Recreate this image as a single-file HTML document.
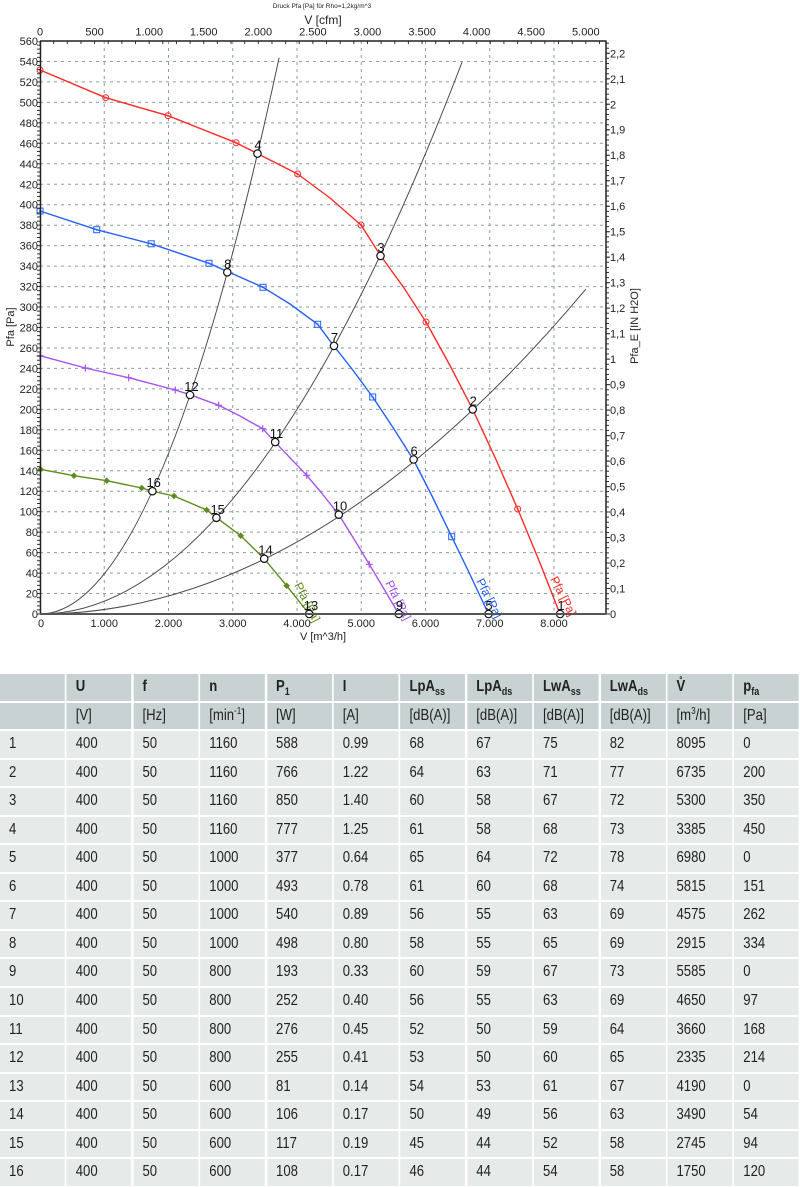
<!DOCTYPE html>
<html><head><meta charset="utf-8">
<style>
html,body{margin:0;padding:0;background:#fff;}
body{width:800px;height:1187px;position:relative;overflow:hidden;font-family:"Liberation Sans",Arial,sans-serif;}
svg{position:absolute;left:0;top:0;}
.t{position:absolute;left:0;top:674px;width:974.4px;display:grid;grid-template-columns:repeat(12,1fr);grid-auto-rows:26.55px;column-gap:2.44px;row-gap:2px;transform:scaleX(.82);transform-origin:0 0;}
.t>div{background:#e6ebea;color:#222;font-size:16px;line-height:26.55px;padding-left:11px;white-space:nowrap;overflow:hidden;}
.t>div:nth-child(-n+24){background:#c8d2d2;}
.t>div:nth-child(-n+12){font-weight:bold;}
.t sub{font-size:11px;vertical-align:-4px;line-height:0;}
.t sup{font-size:10px;vertical-align:6px;line-height:0;}
</style></head><body>
<svg width="800" height="660" viewBox="0 0 800 660" font-family="Liberation Sans, Arial, sans-serif">
<!-- grid -->
<g stroke="#8d9d9b" stroke-width="1" stroke-dasharray="3 4" fill="none">
<path d="M40 593.5H606M40 573.1H606M40 552.6H606M40 532.1H606M40 511.7H606M40 491.2H606M40 470.8H606M40 450.3H606M40 429.8H606M40 409.4H606M40 388.9H606M40 368.4H606M40 348H606M40 327.5H606M40 307H606M40 286.6H606M40 266.1H606M40 245.6H606M40 225.2H606M40 204.7H606M40 184.3H606M40 163.8H606M40 143.3H606M40 122.9H606M40 102.4H606M40 81.9H606M40 61.5H606"/>
<path d="M104.25 41V614M168.5 41V614M232.75 41V614M297 41V614M361.25 41V614M425.5 41V614M489.75 41V614M554 41V614"/>
</g>
<!-- system curves -->
<g stroke="#4a4a4a" stroke-width="1" fill="none">
<path d="M40 614Q159.6 614 279.1 57.7"/>
<path d="M40 614Q251.1 614 462.1 62"/>
<path d="M40 614Q312.8 614 585.7 289.3"/>
</g>
<!-- fan curves -->
<g fill="none" stroke-width="1.4" stroke-linejoin="round">
<polyline stroke="#ff2a2a" points="40,70 105.7,97.7 168,115.7 236,142.7 257.7,153.7 297.7,174 330,198 361,225 380.5,255.5 404,288 426,322 450,365.5 472.7,409.4 496,459.5 517.7,509 540,563 560,614"/>
<polyline stroke="#2460ff" points="40,211 96.7,229.7 151.2,243.8 209,263.3 227.5,271.5 263,287.3 290,304 317.7,324.3 333.8,345.9 352,369 372.7,397 393,427.5 413.6,460 432,496 451.7,536.7 470,574.5 488.5,614"/>
<polyline stroke="#a552f2" points="40,355.7 85.3,368 128.7,377.7 175.3,390 190,394.7 218.7,405.3 240,416 262.7,428.7 275.3,442.3 306.7,475.3 322,493.5 338.8,514.7 354,539 369.3,564.3 384,589 398.8,614"/>
<polyline stroke="#5f8c1e" points="40.5,469.3 74,475.7 106.7,480.7 141.7,488 152.4,491.2 174,496 206.7,510 216.4,517.6 240.7,535.7 264.3,558.8 286.7,585.8 309.2,614"/>
</g>
<!-- markers red -->
<g fill="none" stroke="#ff2a2a" stroke-width="1">
<circle cx="40" cy="70" r="3"/><circle cx="105.7" cy="97.7" r="3"/><circle cx="168" cy="115.7" r="3"/><circle cx="236" cy="142.7" r="3"/><circle cx="297.7" cy="174" r="3"/><circle cx="361" cy="225" r="3"/><circle cx="426" cy="322" r="3"/><circle cx="517.7" cy="509" r="3"/>
</g>
<g fill="#ff2a2a">
<circle cx="40" cy="70" r="1"/><circle cx="105.7" cy="97.7" r="1"/><circle cx="168" cy="115.7" r="1"/><circle cx="236" cy="142.7" r="1"/><circle cx="297.7" cy="174" r="1"/><circle cx="361" cy="225" r="1"/><circle cx="426" cy="322" r="1"/><circle cx="517.7" cy="509" r="1"/>
</g>
<!-- markers blue -->
<g fill="none" stroke="#2460ff" stroke-width="1">
<rect x="37" y="208" width="6" height="6"/><rect x="93.7" y="226.7" width="6" height="6"/><rect x="148.2" y="240.8" width="6" height="6"/><rect x="206" y="260.3" width="6" height="6"/><rect x="260" y="284.3" width="6" height="6"/><rect x="314.7" y="321.3" width="6" height="6"/><rect x="369.7" y="394" width="6" height="6"/><rect x="448.7" y="533.7" width="6" height="6"/>
</g>
<g fill="#2460ff">
<circle cx="40" cy="211" r="1"/><circle cx="96.7" cy="229.7" r="1"/><circle cx="151.2" cy="243.8" r="1"/><circle cx="209" cy="263.3" r="1"/><circle cx="263" cy="287.3" r="1"/><circle cx="317.7" cy="324.3" r="1"/><circle cx="372.7" cy="397" r="1"/><circle cx="451.7" cy="536.7" r="1"/>
</g>
<!-- markers purple -->
<path stroke="#a552f2" stroke-width="1.2" fill="none" d="M36.5 355.7h7M40 352.2v7M81.8 368h7M85.3 364.5v7M125.2 377.7h7M128.7 374.2v7M171.8 390h7M175.3 386.5v7M215.2 405.3h7M218.7 401.8v7M259.2 428.7h7M262.7 425.2v7M303.2 475.3h7M306.7 471.8v7M365.8 564.3h7M369.3 560.8v7"/>
<!-- markers green -->
<g fill="#5f8c1e">
<polygon points="40.5,466 43.8,469.3 40.5,472.6 37.2,469.3"/>
<polygon points="74,472.4 77.3,475.7 74,479 70.7,475.7"/>
<polygon points="106.7,477.4 110,480.7 106.7,484 103.4,480.7"/>
<polygon points="141.7,484.7 145,488 141.7,491.3 138.4,488"/>
<polygon points="174,492.7 177.3,496 174,499.3 170.7,496"/>
<polygon points="206.7,506.7 210,510 206.7,513.3 203.4,510"/>
<polygon points="240.7,532.4 244,535.7 240.7,539 237.4,535.7"/>
<polygon points="286.7,582.5 290,585.8 286.7,589.1 283.4,585.8"/>
</g>
<!-- curve labels -->
<g font-size="12">
<text transform="translate(550,579) rotate(63)" fill="#ff2a2a">Pfa [Pa]</text>
<text transform="translate(476,581) rotate(63)" fill="#2460ff">Pfa [Pa]</text>
<text transform="translate(385,583) rotate(63)" fill="#a552f2">Pfa [Pa]</text>
<text transform="translate(294,585) rotate(63)" fill="#5f8c1e">Pfa [Pa]</text>
</g>
<!-- operating points -->
<g fill="#fff" stroke="#111" stroke-width="1.2">
<circle cx="560.1" cy="614" r="3.7"/><circle cx="472.7" cy="409.4" r="3.7"/><circle cx="380.5" cy="255.9" r="3.7"/><circle cx="257.5" cy="153.6" r="3.7"/>
<circle cx="488.5" cy="614" r="3.7"/><circle cx="413.6" cy="459.5" r="3.7"/><circle cx="334" cy="345.9" r="3.7"/><circle cx="227.3" cy="272.3" r="3.7"/>
<circle cx="398.8" cy="614" r="3.7"/><circle cx="338.8" cy="514.7" r="3.7"/><circle cx="275.2" cy="442.1" r="3.7"/><circle cx="190" cy="395" r="3.7"/>
<circle cx="309.2" cy="614" r="3.7"/><circle cx="264.2" cy="558.7" r="3.7"/><circle cx="216.4" cy="517.8" r="3.7"/><circle cx="152.4" cy="491.2" r="3.7"/>
</g>
<g font-size="13" fill="#111" text-anchor="middle">
<text x="561" y="610">1</text><text x="473.2" y="405.4">2</text><text x="381" y="251.9">3</text><text x="258" y="149.6">4</text>
<text x="489" y="610">5</text><text x="414.1" y="455.5">6</text><text x="334.5" y="341.9">7</text><text x="227.8" y="268.3">8</text>
<text x="399.5" y="610">9</text><text x="340" y="510.7">10</text><text x="276.5" y="438.1">11</text><text x="191.5" y="391">12</text>
<text x="311" y="610">13</text><text x="265.5" y="554.7">14</text><text x="217.7" y="513.8">15</text><text x="153.7" y="487.2">16</text>
</g>
<!-- ticks -->
<line x1="38.5" y1="614.5" x2="38.5" y2="41" stroke="#333" stroke-width="3" stroke-dasharray="1 3.093"/>
<line x1="607.5" y1="614.5" x2="607.5" y2="41" stroke="#333" stroke-width="3" stroke-dasharray="1 4.097"/>
<line x1="608" y1="614.5" x2="608" y2="41" stroke="#333" stroke-width="4" stroke-dasharray="1 24.487"/>
<line x1="39.5" y1="42.5" x2="606" y2="42.5" stroke="#333" stroke-width="3" stroke-dasharray="1 12.645"/>
<!-- axes -->
<path d="M40.5 41V614M40 41H606.5M606 41V614" stroke="#222" stroke-width="1.5" fill="none"/>
<path d="M40 614H606" stroke="#555" stroke-width="2"/>
<!-- labels -->
<text x="322" y="8" font-size="6.5" text-anchor="middle" fill="#222">Druck Pfa [Pa] für Rho=1,2kg/m^3</text>
<text x="323" y="24" font-size="12" text-anchor="middle" fill="#222">V [cfm]</text>
<g font-size="11" text-anchor="middle" fill="#222">
<text x="40" y="35.5">0</text><text x="94.6" y="35.5">500</text><text x="149.2" y="35.5">1.000</text><text x="203.7" y="35.5">1.500</text><text x="258.3" y="35.5">2.000</text><text x="312.9" y="35.5">2.500</text><text x="367.5" y="35.5">3.000</text><text x="422.1" y="35.5">3.500</text><text x="476.6" y="35.5">4.000</text><text x="531.2" y="35.5">4.500</text><text x="585.8" y="35.5">5.000</text>
<text x="41" y="627">0</text><text x="104.25" y="627">1.000</text><text x="168.5" y="627">2.000</text><text x="232.75" y="627">3.000</text><text x="297" y="627">4.000</text><text x="361.25" y="627">5.000</text><text x="425.5" y="627">6.000</text><text x="489.75" y="627">7.000</text><text x="554" y="627">8.000</text>
<text x="323" y="640">V [m^3/h]</text>
</g>
<g font-size="11" text-anchor="end" fill="#222">
<text x="38" y="618">0</text><text x="38" y="597.5">20</text><text x="38" y="577.1">40</text><text x="38" y="556.6">60</text><text x="38" y="536.1">80</text><text x="38" y="515.7">100</text><text x="38" y="495.2">120</text><text x="38" y="474.8">140</text><text x="38" y="454.3">160</text><text x="38" y="433.8">180</text><text x="38" y="413.4">200</text><text x="38" y="392.9">220</text><text x="38" y="372.4">240</text><text x="38" y="352">260</text><text x="38" y="331.5">280</text><text x="38" y="311">300</text><text x="38" y="290.6">320</text><text x="38" y="270.1">340</text><text x="38" y="249.6">360</text><text x="38" y="229.2">380</text><text x="38" y="208.7">400</text><text x="38" y="188.3">420</text><text x="38" y="167.8">440</text><text x="38" y="147.3">460</text><text x="38" y="126.9">480</text><text x="38" y="106.4">500</text><text x="38" y="85.9">520</text><text x="38" y="65.5">540</text><text x="38" y="45">560</text>
</g>
<g font-size="11" fill="#222">
<text x="610" y="618">0</text><text x="610" y="592.5">0,1</text><text x="610" y="567">0,2</text><text x="610" y="541.5">0,3</text><text x="610" y="516.1">0,4</text><text x="610" y="490.6">0,5</text><text x="610" y="465.1">0,6</text><text x="610" y="439.6">0,7</text><text x="610" y="414.1">0,8</text><text x="610" y="388.6">0,9</text><text x="610" y="363.1">1</text><text x="610" y="337.6">1,1</text><text x="610" y="312.2">1,2</text><text x="610" y="286.7">1,3</text><text x="610" y="261.2">1,4</text><text x="610" y="235.7">1,5</text><text x="610" y="210.2">1,6</text><text x="610" y="184.7">1,7</text><text x="610" y="159.2">1,8</text><text x="610" y="133.7">1,9</text><text x="610" y="108.3">2</text><text x="610" y="82.8">2,1</text><text x="610" y="57.3">2,2</text>
</g>
<text transform="translate(14,327) rotate(-90)" font-size="11" text-anchor="middle" fill="#222">Pfa [Pa]</text>
<text transform="translate(638,326) rotate(-90)" font-size="11" text-anchor="middle" fill="#222">Pfa_E [IN H2O]</text>
</svg>

<div class="t">
<div></div><div>U</div><div>f</div><div>n</div><div>P<sub>1</sub></div><div>I</div><div>LpA<sub>ss</sub></div><div>LpA<sub>ds</sub></div><div>LwA<sub>ss</sub></div><div>LwA<sub>ds</sub></div><div>V&#778;</div><div>p<sub>fa</sub></div>
<div></div><div>[V]</div><div>[Hz]</div><div>[min<sup>-1</sup>]</div><div>[W]</div><div>[A]</div><div>[dB(A)]</div><div>[dB(A)]</div><div>[dB(A)]</div><div>[dB(A)]</div><div>[m<sup>3</sup>/h]</div><div>[Pa]</div>
<div>1</div><div>400</div><div>50</div><div>1160</div><div>588</div><div>0.99</div><div>68</div><div>67</div><div>75</div><div>82</div><div>8095</div><div>0</div>
<div>2</div><div>400</div><div>50</div><div>1160</div><div>766</div><div>1.22</div><div>64</div><div>63</div><div>71</div><div>77</div><div>6735</div><div>200</div>
<div>3</div><div>400</div><div>50</div><div>1160</div><div>850</div><div>1.40</div><div>60</div><div>58</div><div>67</div><div>72</div><div>5300</div><div>350</div>
<div>4</div><div>400</div><div>50</div><div>1160</div><div>777</div><div>1.25</div><div>61</div><div>58</div><div>68</div><div>73</div><div>3385</div><div>450</div>
<div>5</div><div>400</div><div>50</div><div>1000</div><div>377</div><div>0.64</div><div>65</div><div>64</div><div>72</div><div>78</div><div>6980</div><div>0</div>
<div>6</div><div>400</div><div>50</div><div>1000</div><div>493</div><div>0.78</div><div>61</div><div>60</div><div>68</div><div>74</div><div>5815</div><div>151</div>
<div>7</div><div>400</div><div>50</div><div>1000</div><div>540</div><div>0.89</div><div>56</div><div>55</div><div>63</div><div>69</div><div>4575</div><div>262</div>
<div>8</div><div>400</div><div>50</div><div>1000</div><div>498</div><div>0.80</div><div>58</div><div>55</div><div>65</div><div>69</div><div>2915</div><div>334</div>
<div>9</div><div>400</div><div>50</div><div>800</div><div>193</div><div>0.33</div><div>60</div><div>59</div><div>67</div><div>73</div><div>5585</div><div>0</div>
<div>10</div><div>400</div><div>50</div><div>800</div><div>252</div><div>0.40</div><div>56</div><div>55</div><div>63</div><div>69</div><div>4650</div><div>97</div>
<div>11</div><div>400</div><div>50</div><div>800</div><div>276</div><div>0.45</div><div>52</div><div>50</div><div>59</div><div>64</div><div>3660</div><div>168</div>
<div>12</div><div>400</div><div>50</div><div>800</div><div>255</div><div>0.41</div><div>53</div><div>50</div><div>60</div><div>65</div><div>2335</div><div>214</div>
<div>13</div><div>400</div><div>50</div><div>600</div><div>81</div><div>0.14</div><div>54</div><div>53</div><div>61</div><div>67</div><div>4190</div><div>0</div>
<div>14</div><div>400</div><div>50</div><div>600</div><div>106</div><div>0.17</div><div>50</div><div>49</div><div>56</div><div>63</div><div>3490</div><div>54</div>
<div>15</div><div>400</div><div>50</div><div>600</div><div>117</div><div>0.19</div><div>45</div><div>44</div><div>52</div><div>58</div><div>2745</div><div>94</div>
<div>16</div><div>400</div><div>50</div><div>600</div><div>108</div><div>0.17</div><div>46</div><div>44</div><div>54</div><div>58</div><div>1750</div><div>120</div>
</div>
</body></html>
